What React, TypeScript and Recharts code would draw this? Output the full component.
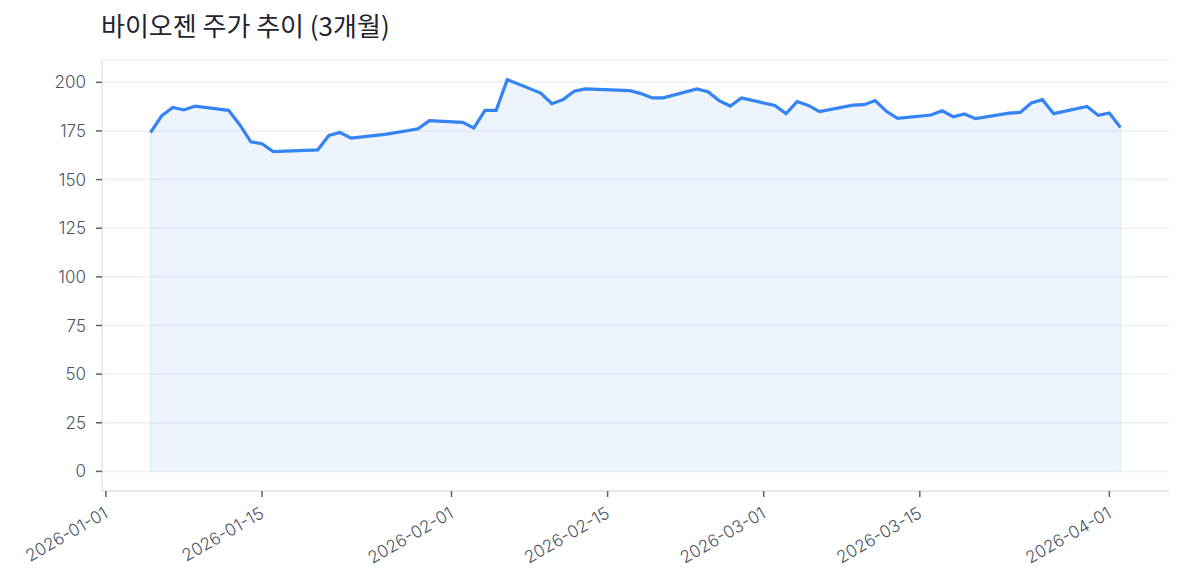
import { ComposedChart, Area, XAxis, YAxis, CartesianGrid, ReferenceLine } from "recharts"

const TITLE_FONT = "'Noto Sans CJK KR', 'Noto Sans', sans-serif"
const TICK_FONT = "Inter, 'Noto Sans', sans-serif"

const dates = [
  "2026-01-05", "2026-01-06", "2026-01-07", "2026-01-08", "2026-01-09",
  "2026-01-12", "2026-01-13", "2026-01-14", "2026-01-15", "2026-01-16",
  "2026-01-20", "2026-01-21", "2026-01-22", "2026-01-23",
  "2026-01-26", "2026-01-27", "2026-01-28", "2026-01-29", "2026-01-30",
  "2026-02-02", "2026-02-03", "2026-02-04", "2026-02-05", "2026-02-06",
  "2026-02-09", "2026-02-10", "2026-02-11", "2026-02-12", "2026-02-13",
  "2026-02-17", "2026-02-18", "2026-02-19", "2026-02-20",
  "2026-02-23", "2026-02-24", "2026-02-25", "2026-02-26", "2026-02-27",
  "2026-03-02", "2026-03-03", "2026-03-04", "2026-03-05", "2026-03-06",
  "2026-03-09", "2026-03-10", "2026-03-11", "2026-03-12", "2026-03-13",
  "2026-03-16", "2026-03-17", "2026-03-18", "2026-03-19", "2026-03-20",
  "2026-03-23", "2026-03-24", "2026-03-25", "2026-03-26", "2026-03-27",
  "2026-03-30", "2026-03-31", "2026-04-01", "2026-04-02",
]

const prices = [
  174.2, 182.8, 187.1, 185.8, 187.8,
  185.6, 178.2, 169.4, 168.4, 164.4,
  165.3, 172.7, 174.2, 171.3,
  173.2, 174.1, 175.1, 176.1, 180.3,
  179.4, 176.5, 185.6, 185.6, 201.4,
  194.5, 189.0, 191.1, 195.4, 196.6,
  195.7, 194.2, 192.0, 192.0,
  196.6, 195.2, 190.6, 187.8, 192.0,
  188.1, 183.9, 190.1, 188.1, 184.9,
  188.3, 188.5, 190.6, 185.1, 181.5,
  183.2, 185.4, 182.3, 183.7, 181.3,
  184.2, 184.5, 189.4, 191.1, 183.9,
  187.6, 183.0, 184.2, 176.8,
]

const yTicks = [0, 25, 50, 75, 100, 125, 150, 175, 200]
const xTickLabels = ["2026-01-01", "2026-01-15", "2026-02-01", "2026-02-15", "2026-03-01", "2026-03-15", "2026-04-01"]

const toTs = (s: string) => Date.parse(s + "T00:00:00Z")
const fmt = (t: number) => new Date(t).toISOString().slice(0, 10)

const data = dates.map((d, i) => ({ t: toTs(d), price: prices[i] }))
const xTicks = xTickLabels.map(toTs)

// matplotlib-style 5% margins around the data (area goes down to 0)
const tMin = data[0].t
const tMax = data[data.length - 1].t
const tPad = (tMax - tMin) * 0.05
const pMax = Math.max(...prices)
const yPad = pMax * 0.05

const BLUE = "#3584f5"
const TICK_COLOR = "#4b5363"

function DateTick({ x, y, payload }: any) {
  return (
    <g transform={`translate(${x - 3},${y + 7})`}>
      <text
        x={0}
        y={0}
        dy="0.72em"
        textAnchor="end"
        transform="rotate(-30)"
        fill={TICK_COLOR}
        fontSize={17}
        fontWeight={300}
        fontFamily={TICK_FONT}
      >
        {fmt(payload.value)}
      </text>
    </g>
  )
}

export default function App() {
  const first = data[0]
  const last = data[data.length - 1]

  return (
    <div style={{ position: "absolute", left: 0, top: 0, width: 1184, height: 585, background: "#fff" }}>
      <div
        style={{
          position: "absolute",
          left: 101,
          top: 7,
          fontFamily: TITLE_FONT,
          fontSize: 26,
          fontWeight: 400,
          color: "#1f2430",
          lineHeight: "36px",
        }}
      >
        바이오젠 주가 추이 (3개월)
      </div>
      <ComposedChart width={1184} height={585} data={data} margin={{ top: 60, right: 15, left: 42, bottom: 14 }}>
        <CartesianGrid vertical={false} stroke="#eff0f3" strokeWidth={1.5} />
        <XAxis
          dataKey="t"
          type="number"
          domain={[tMin - tPad, tMax + tPad]}
          allowDataOverflow
          ticks={xTicks}
          height={80}
          tick={<DateTick />}
          tickSize={6}
          axisLine={{ stroke: "#e3e5ea", strokeWidth: 1.5 }}
          tickLine={{ stroke: "#5b6170", strokeWidth: 1.5 }}
        />
        <YAxis
          type="number"
          domain={[-yPad, pMax + yPad]}
          allowDataOverflow
          ticks={yTicks}
          width={60}
          tickSize={6}
          tickMargin={10}
          tick={{ fill: TICK_COLOR, fontSize: 17, fontWeight: 300, fontFamily: TICK_FONT }}
          axisLine={{ stroke: "#e3e5ea", strokeWidth: 1.5 }}
          tickLine={{ stroke: "#5b6170", strokeWidth: 1.5 }}
        />
        <Area
          type="linear"
          dataKey="price"
          baseValue={0}
          stroke={BLUE}
          strokeWidth={3.2}
          fill={BLUE}
          fillOpacity={0.09}
          dot={false}
          activeDot={false}
          isAnimationActive={false}
        />
        <ReferenceLine
          segment={[{ x: first.t, y: 0 }, { x: first.t, y: first.price }]}
          stroke={BLUE}
          strokeOpacity={0.1}
          strokeWidth={1.5}
        />
        <ReferenceLine
          segment={[{ x: last.t, y: 0 }, { x: last.t, y: last.price }]}
          stroke={BLUE}
          strokeOpacity={0.1}
          strokeWidth={1.5}
        />
      </ComposedChart>
    </div>
  )
}
